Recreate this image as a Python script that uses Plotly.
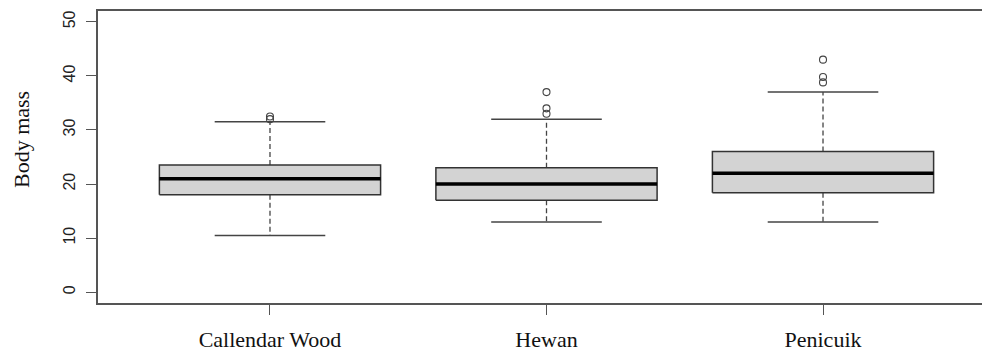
import plotly.graph_objects as go

categories = ["Callendar Wood", "Hewan", "Penicuik"]
q1 = [18.0, 17.0, 18.4]
medians = [21.0, 20.0, 22.0]
q3 = [23.5, 23.0, 26.0]
lower_whisker = [10.5, 13.0, 13.0]
upper_whisker = [31.5, 32.0, 37.0]
outliers = [[32.0, 32.5], [33.0, 34.0, 37.0], [38.8, 39.8, 43.0]]
y_ticks = [0, 10, 20, 30, 40, 50]

BOX_HALF = 0.4
CAP_HALF = 0.2
LINE = "#444444"

fig = go.Figure()
for i, cat in enumerate(categories):
    xc = i + 1
    # whiskers (dashed)
    fig.add_trace(go.Scatter(x=[xc, xc], y=[q3[i], upper_whisker[i]], mode="lines",
                             line=dict(color=LINE, width=1.3, dash="5px,3px"), showlegend=False, hoverinfo="skip"))
    fig.add_trace(go.Scatter(x=[xc, xc], y=[q1[i], lower_whisker[i]], mode="lines",
                             line=dict(color=LINE, width=1.3, dash="5px,3px"), showlegend=False, hoverinfo="skip"))
    # caps
    for w in (upper_whisker[i], lower_whisker[i]):
        fig.add_trace(go.Scatter(x=[xc - CAP_HALF, xc + CAP_HALF], y=[w, w], mode="lines",
                                 line=dict(color=LINE, width=1.5), showlegend=False, hoverinfo="skip"))
    # box
    fig.add_trace(go.Scatter(x=[xc - BOX_HALF, xc + BOX_HALF, xc + BOX_HALF, xc - BOX_HALF, xc - BOX_HALF],
                             y=[q1[i], q1[i], q3[i], q3[i], q1[i]], mode="lines", fill="toself",
                             fillcolor="#d3d3d3", line=dict(color="#333333", width=1.5),
                             showlegend=False, hoverinfo="skip"))
    # median
    fig.add_trace(go.Scatter(x=[xc - BOX_HALF, xc + BOX_HALF], y=[medians[i], medians[i]], mode="lines",
                             line=dict(color="#000000", width=3.5), showlegend=False, hoverinfo="skip"))
    # outliers
    fig.add_trace(go.Scatter(x=[xc] * len(outliers[i]), y=outliers[i], mode="markers",
                             marker=dict(symbol="circle-open", size=7, color=LINE, line=dict(width=1.1)),
                             showlegend=False, hoverinfo="skip"))

fig.update_layout(
    width=982, height=352,
    margin=dict(l=98, r=0, t=11, b=49),
    paper_bgcolor="white", plot_bgcolor="white",
    xaxis=dict(range=[0.378, 3.575], tickvals=[1, 2, 3], ticktext=categories,
               showgrid=False, zeroline=False, showline=True, mirror=True,
               linecolor="#555555", linewidth=1.5, ticks="outside", ticklen=10,
               tickcolor="#555555", tickwidth=1.2, ticklabelstandoff=6,
               tickfont=dict(family="Liberation Serif", size=22, color="#111111")),
    yaxis=dict(range=[-2, 52], tickvals=y_ticks, ticktext=[str(v) for v in y_ticks],
               showgrid=False, zeroline=False, showline=True, mirror=False,
               linecolor="#555555", linewidth=1.5, ticks="outside", ticklen=10,
               tickcolor="#555555", tickwidth=1.2, tickangle=-90, ticklabelstandoff=5,
               tickfont=dict(family="Liberation Sans", size=16, color="#222222")),
    annotations=[dict(text="Body mass", xref="paper", yref="paper", x=-98 / 884 + 21 / 884, y=1 - (140 - 11) / 292,
                      xanchor="center", yanchor="middle", showarrow=False, textangle=-90,
                      font=dict(family="Liberation Serif", size=22, color="#111111"))],
)

fig.write_html("out.html")
